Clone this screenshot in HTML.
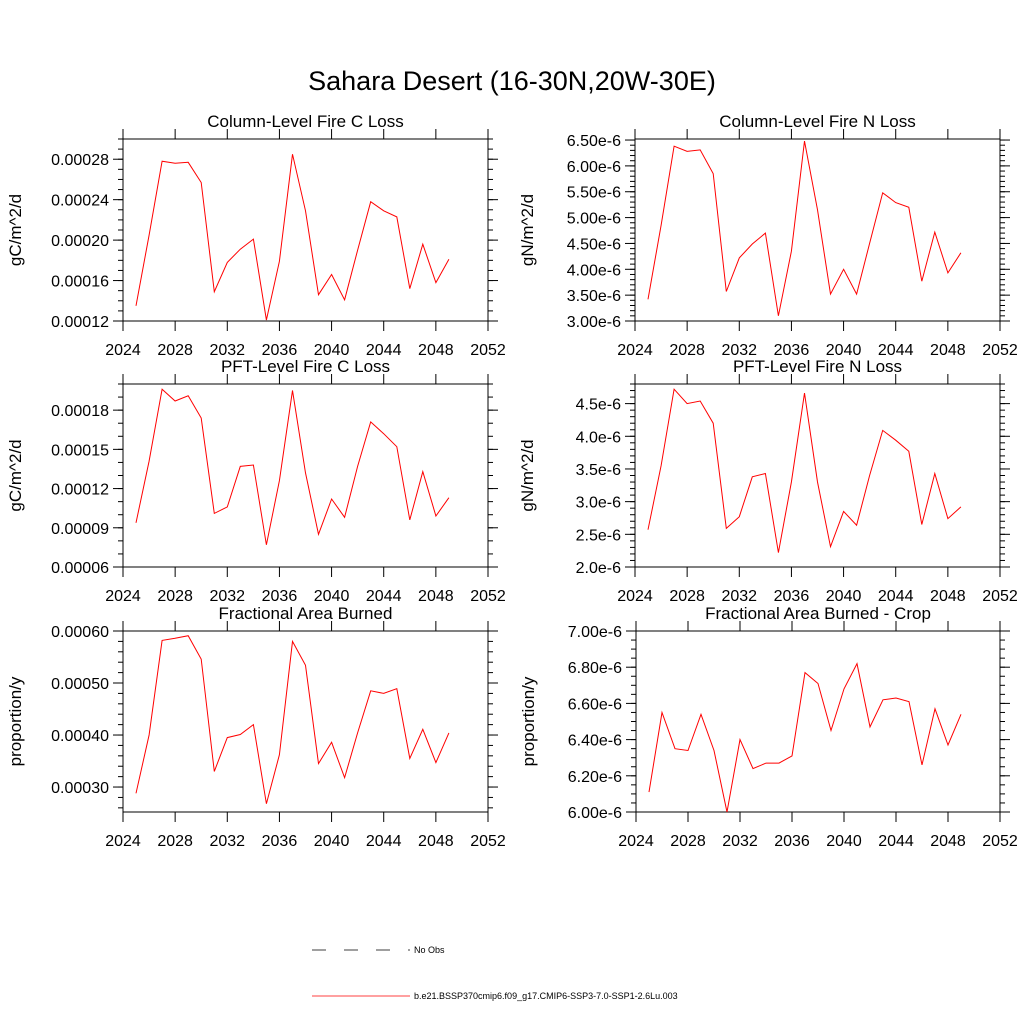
<!DOCTYPE html>
<html><head><meta charset="utf-8"><style>
html,body{margin:0;padding:0;background:#fff;overflow:hidden;width:1024px;height:1024px}
svg{display:block}
svg text{font-family:"Liberation Sans",sans-serif;fill:#000}
</style></head><body>
<svg id="chart" width="1024" height="1024" viewBox="0 0 1024 1024">
<text x="512" y="90" font-size="27" text-anchor="middle">Sahara Desert (16-30N,20W-30E)</text>
<g>
<line x1="312" y1="950" x2="410" y2="950" stroke="#000" stroke-width="0.8" stroke-dasharray="14,18"/>
<text x="414" y="953" font-size="9">No Obs</text>
<line x1="312" y1="996" x2="410" y2="996" stroke="red" stroke-width="0.8"/>
<text x="414" y="999" font-size="9">b.e21.BSSP370cmip6.f09_g17.CMIP6-SSP3-7.0-SSP1-2.6Lu.003</text>
</g>
</svg>
<script>
const years=[2025,2026,2027,2028,2029,2030,2031,2032,2033,2034,2035,2036,2037,2038,2039,2040,2041,2042,2043,2044,2045,2046,2047,2048,2049];
const xTickLabels=["2024","2028","2032","2036","2040","2044","2048","2052"];
const colC=[0.000135,0.000205,0.000278,0.000276,0.000277,0.000257,0.000149,0.000178,0.000191,0.000201,0.000121,0.000179,0.000285,0.000229,0.000146,0.000166,0.000141,0.000190,0.000238,0.000229,0.000223,0.000152,0.000196,0.000158,0.000181];
const colN=[3.42,4.85,6.38,6.28,6.31,5.85,3.57,4.22,4.49,4.70,3.10,4.35,6.48,5.15,3.52,4.00,3.52,4.50,5.48,5.29,5.20,3.77,4.72,3.93,4.32];
const pftC=[0.0000938,0.000141,0.000196,0.000187,0.000191,0.000174,0.000101,0.000106,0.000137,0.000138,0.000077,0.000126,0.000195,0.000132,0.000085,0.000112,0.000098,0.000137,0.000171,0.000162,0.000152,0.000096,0.000133,0.000099,0.000113];
const pftN=[2.57,3.55,4.72,4.50,4.54,4.20,2.59,2.77,3.38,3.43,2.22,3.30,4.66,3.30,2.31,2.85,2.64,3.40,4.09,3.94,3.77,2.65,3.43,2.74,2.92];
const fab=[0.000288,0.000400,0.000582,0.000586,0.000591,0.000546,0.000330,0.000395,0.000401,0.000420,0.000268,0.000362,0.000580,0.000534,0.000345,0.000386,0.000318,0.000404,0.000485,0.000480,0.000489,0.000355,0.000411,0.000347,0.000404];
const fabCrop=[6.11,6.55,6.35,6.34,6.54,6.34,6.00,6.40,6.24,6.27,6.27,6.31,6.77,6.71,6.45,6.68,6.82,6.47,6.62,6.63,6.61,6.26,6.57,6.37,6.54];
const yLabelsColC=["0.00012","0.00016","0.00020","0.00024","0.00028"];
const yLabelsColN=["3.00e-6","3.50e-6","4.00e-6","4.50e-6","5.00e-6","5.50e-6","6.00e-6","6.50e-6"];
const yLabelsPftC=["0.00006","0.00009","0.00012","0.00015","0.00018"];
const yLabelsPftN=["2.0e-6","2.5e-6","3.0e-6","3.5e-6","4.0e-6","4.5e-6"];
const yLabelsFab=["0.00030","0.00040","0.00050","0.00060"];
const yLabelsCrop=["6.00e-6","6.20e-6","6.40e-6","6.60e-6","6.80e-6","7.00e-6"];
const panels=[
 {name:"column-fire-c",title:"Column-Level Fire C Loss",yt:"gC/m^2/d",x0:123,y0:139,x1:488,y1:321,ymin:0.00012,ymax:0.0003,maj0:0.00012,min:0.00001,labels:yLabelsColC,data:colC,unit:1},
 {name:"column-fire-n",title:"Column-Level Fire N Loss",yt:"gN/m^2/d",x0:635,y0:139,x1:1000,y1:321,ymin:3.0,ymax:6.52,maj0:3.0,min:0.1,labels:yLabelsColN,data:colN,unit:1e-6},
 {name:"pft-fire-c",title:"PFT-Level Fire C Loss",yt:"gC/m^2/d",x0:123,y0:384,x1:488,y1:567,ymin:0.00006,ymax:0.0002,maj0:0.00006,min:0.00001,labels:yLabelsPftC,data:pftC,unit:1},
 {name:"pft-fire-n",title:"PFT-Level Fire N Loss",yt:"gN/m^2/d",x0:635,y0:384,x1:1000,y1:567,ymin:2.0,ymax:4.8,maj0:2.0,min:0.1,labels:yLabelsPftN,data:pftN,unit:1e-6},
 {name:"fractional-area-burned",title:"Fractional Area Burned",yt:"proportion/y",x0:123,y0:631,x1:488,y1:812,ymin:0.000252,ymax:0.0006,maj0:0.0003,min:0.00002,labels:yLabelsFab,data:fab,unit:1},
 {name:"fractional-area-burned-crop",title:"Fractional Area Burned - Crop",yt:"proportion/y",x0:636,y0:631,x1:1000,y1:812,ymin:6.0,ymax:7.0,maj0:6.0,min:0.05,labels:yLabelsCrop,data:fabCrop,unit:1e-6}
];
const NS="http://www.w3.org/2000/svg";
const svg=document.getElementById('chart');
function mk(tag,attrs,parent){const e=document.createElementNS(NS,tag);for(const k in attrs)e.setAttribute(k,attrs[k]);parent.appendChild(e);return e;}
panels.forEach(p=>{
 const g=mk('g',{},svg);
 
 
 const xs=v=>p.x0+(v-2024)/(2052-2024)*(p.x1-p.x0);
 const ys=v=>p.y1-(v-p.ymin)/(p.ymax-p.ymin)*(p.y1-p.y0);
 const t=mk('text',{x:(p.x0+p.x1)/2,y:p.y0-12,'font-size':17,'text-anchor':'middle'},g);
 t.textContent=p.title;
 
 
 const yl=mk('text',{x:0,y:0,'font-size':17,'text-anchor':'middle',transform:`translate(${p.x0-102},${(p.y0+p.y1)/2}) rotate(-90)`},g);
 yl.textContent=p.yt;
 
 
 const fr=mk('rect',{x:p.x0,y:p.y0,width:p.x1-p.x0,height:p.y1-p.y0,fill:'none',stroke:'#000','stroke-width':1},g);
 
 
 xTickLabels.forEach(l=>{
  const x=xs(+l);
  mk('line',{x1:x,y1:p.y1,x2:x,y2:p.y1+10,stroke:'#000'},g);
  mk('line',{x1:x,y1:p.y0,x2:x,y2:p.y0-10,stroke:'#000'},g);
  const tx=mk('text',{x:x,y:p.y1+34,'font-size':16,'text-anchor':'middle'},g);
  tx.textContent=l;
  
  
 });
 const nUp=Math.floor((p.ymax-p.maj0)/p.min+1e-6);
 for(let i=0;i<=nUp;i++){
  const y=ys(p.maj0+i*p.min);
  mk('line',{x1:p.x0,y1:y,x2:p.x0-5,y2:y,stroke:'#000'},g);
  mk('line',{x1:p.x1,y1:y,x2:p.x1+5,y2:y,stroke:'#000'},g);
 }
 const nDn=Math.floor((p.maj0-p.ymin)/p.min+1e-6);
 for(let i=1;i<=nDn;i++){
  const y=ys(p.maj0-i*p.min);
  mk('line',{x1:p.x0,y1:y,x2:p.x0-5,y2:y,stroke:'#000'},g);
  mk('line',{x1:p.x1,y1:y,x2:p.x1+5,y2:y,stroke:'#000'},g);
 }
 p.labels.forEach(l=>{
  const v=parseFloat(l)/p.unit;
  const y=ys(v);
  mk('line',{x1:p.x0,y1:y,x2:p.x0-10,y2:y,stroke:'#000'},g);
  mk('line',{x1:p.x1,y1:y,x2:p.x1+10,y2:y,stroke:'#000'},g);
  const ty=mk('text',{x:p.x0-14,y:y+6,'font-size':16,'text-anchor':'end'},g);
  ty.textContent=l;
  
  
 });
 const pts=years.map((yr,i)=>xs(yr).toFixed(1)+','+ys(p.data[i]).toFixed(1)).join(' ');
 const pl=mk('polyline',{points:pts,fill:'none',stroke:'red','stroke-width':1},g);
 
 
});
</script>
</body></html>
